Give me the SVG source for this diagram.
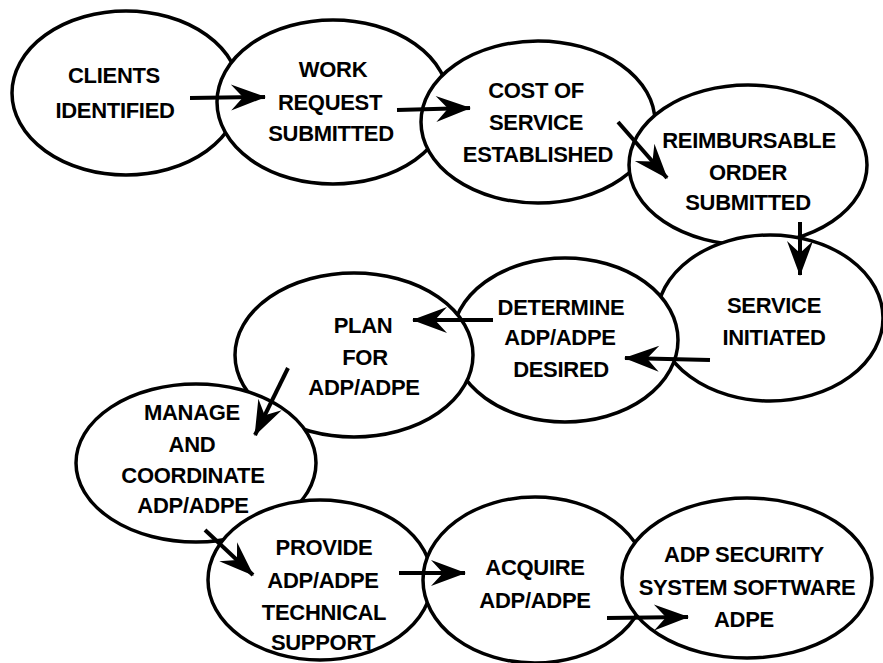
<svg xmlns="http://www.w3.org/2000/svg" width="883" height="663" viewBox="0 0 883 663">
<style>
.n ellipse{fill:#fff;stroke:#000;stroke-width:3.5}
.n text{font-family:"Liberation Sans",Arial,sans-serif;font-size:22px;font-weight:bold;text-anchor:middle;fill:#000;letter-spacing:-0.3px}
.c line{stroke:#000;stroke-width:4;marker-end:url(#ah)}
</style>
<defs>
<marker id="ah" markerUnits="userSpaceOnUse" markerWidth="40" markerHeight="32" viewBox="-38 -16 40 32" refX="0" refY="0" orient="auto">
<path d="M1,0 L-34,-13 L-22,0 L-34,13 Z" fill="#000"/>
</marker>
</defs>
<rect width="883" height="663" fill="#fff"/>
<g id="n1" class="n"><ellipse cx="126" cy="93" rx="114" ry="82"/><text x="114" y="83">CLIENTS</text><text x="115" y="118">IDENTIFIED</text></g>
<g id="n2" class="n"><ellipse cx="333" cy="102" rx="116" ry="82"/><text x="333" y="77">WORK</text><text x="330" y="110">REQUEST</text><text x="331" y="141">SUBMITTED</text></g>
<g id="n3" class="n"><ellipse cx="538" cy="122" rx="117" ry="81"/><text x="536" y="98">COST OF</text><text x="536" y="130">SERVICE</text><text x="538" y="162">ESTABLISHED</text></g>
<g id="n4" class="n"><ellipse cx="748" cy="165" rx="119" ry="80"/><text x="749" y="148">REIMBURSABLE</text><text x="748" y="180">ORDER</text><text x="748" y="210">SUBMITTED</text></g>
<g id="n5" class="n"><ellipse cx="770" cy="318" rx="113" ry="83"/><text x="774" y="313">SERVICE</text><text x="774" y="345">INITIATED</text></g>
<g id="n6" class="n"><ellipse cx="565" cy="340" rx="113" ry="82"/><text x="561" y="315">DETERMINE</text><text x="560" y="345">ADP/ADPE</text><text x="561" y="377">DESIRED</text></g>
<g id="n7" class="n"><ellipse cx="354" cy="355" rx="119" ry="82"/><text x="363" y="333">PLAN</text><text x="365" y="365">FOR</text><text x="364" y="395">ADP/ADPE</text></g>
<g id="n8" class="n"><ellipse cx="196" cy="463" rx="120" ry="79"/><text x="192" y="420">MANAGE</text><text x="192" y="452">AND</text><text x="193" y="483">COORDINATE</text><text x="193" y="513">ADP/ADPE</text></g>
<g id="n9" class="n"><ellipse cx="320" cy="580" rx="112" ry="80"/><text x="324" y="555">PROVIDE</text><text x="323" y="588">ADP/ADPE</text><text x="324" y="620">TECHNICAL</text><text x="323" y="650">SUPPORT</text></g>
<g id="n10" class="n"><ellipse cx="535" cy="580" rx="112" ry="83"/><text x="535" y="575">ACQUIRE</text><text x="535" y="608">ADP/ADPE</text></g>
<g id="n11" class="n"><ellipse cx="747" cy="578" rx="125" ry="80"/><text x="744" y="562">ADP SECURITY</text><text x="747" y="595">SYSTEM SOFTWARE</text><text x="744" y="627">ADPE</text></g>
<g id="connectors" class="c">
<line x1="190" y1="98" x2="265" y2="97"/>
<line x1="397" y1="110" x2="470" y2="108"/>
<line x1="618" y1="122" x2="667" y2="178"/>
<line x1="800" y1="222" x2="800" y2="275"/>
<line x1="710" y1="360" x2="625" y2="358"/>
<line x1="493" y1="320" x2="413" y2="320"/>
<line x1="288" y1="368" x2="255" y2="435"/>
<line x1="205" y1="530" x2="253" y2="575"/>
<line x1="399" y1="573" x2="465" y2="573"/>
<line x1="607" y1="618" x2="688" y2="617"/>
</g>
</svg>
